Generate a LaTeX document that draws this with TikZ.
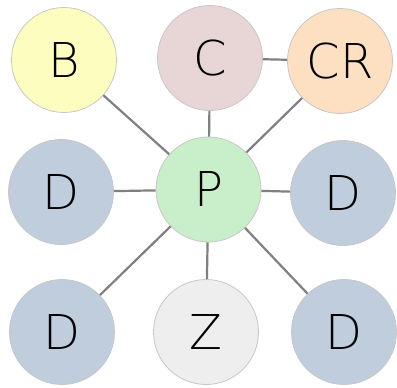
\documentclass[tikz,border=0pt]{standalone}
\usepackage{fontspec}
\newfontfamily\thinfont{DejaVu Sans ExtraLight}
\definecolor{cyellow}{HTML}{FDFDBF}
\definecolor{cpink}{HTML}{E8D6D6}
\definecolor{corange}{HTML}{FDDFC1}
\definecolor{cgreen}{HTML}{C8EFC9}
\definecolor{cblue}{HTML}{BFCDDD}
\definecolor{cgray}{HTML}{EEEEEE}
\begin{document}
\begin{tikzpicture}[x=1pt, y=-1pt,
  ball/.style={circle, draw=black!22, line width=0.8pt, minimum size=105pt,
    inner sep=0pt, font=\thinfont\fontsize{48}{48}\selectfont},
  link/.style={draw=black!50, line width=2.2pt}]
  \useasboundingbox (0,0) rectangle (397,388);
  \node[ball, fill=cgreen]  (p)   at (208.5,189.5) {P};
  \node[ball, fill=cyellow] (b)   at (64,60)  {B};
  \node[ball, fill=cpink]   (c)   at (210,58) {C};
  \node[ball, fill=corange] (cr)  at (340,61) {CR};
  \node[ball, fill=cblue]   (dl)  at (61,192) {D};
  \node[ball, fill=cblue]   (dr)  at (343,193) {D};
  \node[ball, fill=cblue]   (dbl) at (62,332) {D};
  \node[ball, fill=cgray]   (z)   at (206,332) {Z};
  \node[ball, fill=cblue]   (dbr) at (344,332) {D};
  \foreach \n in {b,c,cr,dl,dr,dbl,z,dbr}
    \draw[link] (p) -- (\n);
  \draw[link] (c) -- (cr);
\end{tikzpicture}
\end{document}
